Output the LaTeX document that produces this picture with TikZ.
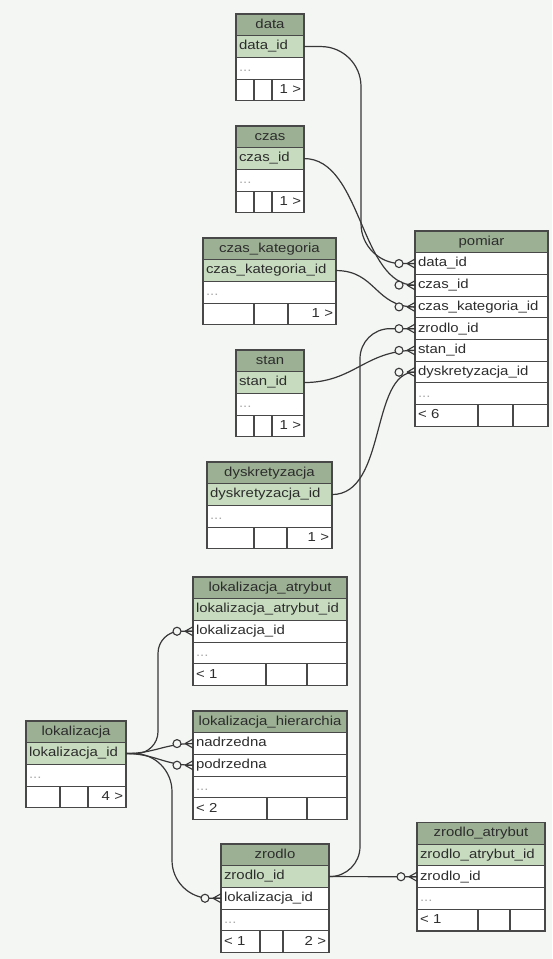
\documentclass[tikz,border=0pt]{standalone}
\usepackage{fontspec}
\newfontfamily\erfont{Liberation Sans}[FakeStretch=1.15]
\usetikzlibrary{positioning,decorations.markings}

\definecolor{bgclr}{RGB}{244,246,244}
\definecolor{headclr}{RGB}{156,177,148}
\definecolor{keyclr}{RGB}{199,220,191}
\definecolor{lineclr}{RGB}{72,72,72}
\definecolor{txtclr}{RGB}{45,45,45}
\definecolor{dotclr}{RGB}{170,170,170}
\definecolor{relclr}{RGB}{55,55,55}

\tikzset{
  cell/.style={draw=lineclr, line width=1.1pt, inner xsep=3pt, inner ysep=0pt, outer sep=0pt,
    minimum height=21.7pt, text height=9.5pt, text depth=2.8pt,
    font=\erfont\fontsize{13}{15}\selectfont, text=txtclr},
  head/.style={cell, fill=headclr, text width=#1, align=center},
  keyfld/.style={cell, fill=keyclr, text width=#1, align=left},
  fld/.style={cell, fill=white, text width=#1, align=left},
  dotfld/.style={cell, fill=white, text width=#1, align=left, text=dotclr},
  footl/.style={cell, fill=white, text width=#1, align=left},
  footr/.style={cell, fill=white, text width=#1, align=right},
  rel/.style={draw=relclr, line width=1.2pt},
  zmany/.style={postaction={decorate, decoration={markings, mark=at position -0.3pt with {
      \draw[relclr, line width=1.1pt, fill=bgclr] (-15.7,0) circle (4);
      \draw[relclr, line width=1.1pt] (-7.7,0) -- (0.3,4.5) (-7.7,0) -- (0.3,-4.5) (-7.7,0) -- (0.3,0);}}}}
}

\begin{document}
\begin{tikzpicture}[x=1pt, y=-1pt]
\useasboundingbox (0,0) rectangle (552,959);
\fill[bgclr] (0,0) rectangle (552,959);

% small dimension tables
\foreach \tab/\ty in {data/14,czas/126,stan/350}{
  \node[head=62pt, anchor=north west] (\tab) at (236,\ty) {\tab};
  \node[keyfld=62pt, below=0pt of \tab] (\tab-id) {\tab\_id};
  \node[dotfld=62pt, below=0pt of \tab-id] (\tab-dots) {...};
  \node[footl=12pt, anchor=north west] (\tab-f1) at (\tab-dots.south west) {};
  \node[footl=12pt, right=0pt of \tab-f1] (\tab-f2) {};
  \node[footr=26pt, right=0pt of \tab-f2] (\tab-f3) {1 >};
}

% czas_kategoria
\node[head=127pt, anchor=north west] (czaskat) at (203,238) {czas\_kategoria};
\node[keyfld=127pt, below=0pt of czaskat] (czaskat-id) {czas\_kategoria\_id};
\node[dotfld=127pt, below=0pt of czaskat-id] (czaskat-dots) {...};
\node[footl=45pt, anchor=north west] (czaskat-f1) at (czaskat-dots.south west) {};
\node[footl=28pt, right=0pt of czaskat-f1] (czaskat-f2) {};
\node[footr=42pt, right=0pt of czaskat-f2] (czaskat-f3) {1 >};

% dyskretyzacja
\node[head=119pt, anchor=north west] (dysk) at (207,462) {dyskretyzacja};
\node[keyfld=119pt, below=0pt of dysk] (dysk-id) {dyskretyzacja\_id};
\node[dotfld=119pt, below=0pt of dysk-id] (dysk-dots) {...};
\node[footl=41pt, anchor=north west] (dysk-f1) at (dysk-dots.south west) {};
\node[footl=27pt, right=0pt of dysk-f1] (dysk-f2) {};
\node[footr=39pt, right=0pt of dysk-f2] (dysk-f3) {1 >};

% pomiar
\node[head=127pt, anchor=north west] (pomiar) at (415,231) {pomiar};
\node[fld=127pt, below=0pt of pomiar] (pomiar-data) {data\_id};
\node[fld=127pt, below=0pt of pomiar-data] (pomiar-czas) {czas\_id};
\node[fld=127pt, below=0pt of pomiar-czas] (pomiar-czaskat) {czas\_kategoria\_id};
\node[fld=127pt, below=0pt of pomiar-czaskat] (pomiar-zrodlo) {zrodlo\_id};
\node[fld=127pt, below=0pt of pomiar-zrodlo] (pomiar-stan) {stan\_id};
\node[fld=127pt, below=0pt of pomiar-stan] (pomiar-dysk) {dyskretyzacja\_id};
\node[dotfld=127pt, below=0pt of pomiar-dysk] (pomiar-dots) {...};
\node[footl=57pt, anchor=north west] (pomiar-f1) at (pomiar-dots.south west) {< 6};
\node[footl=29pt, right=0pt of pomiar-f1] (pomiar-f2) {};
\node[footr=29pt, right=0pt of pomiar-f2] (pomiar-f3) {};

% lokalizacja_atrybut
\node[head=148pt, anchor=north west] (lokatr) at (193,577) {lokalizacja\_atrybut};
\node[keyfld=148pt, below=0pt of lokatr] (lokatr-id) {lokalizacja\_atrybut\_id};
\node[fld=148pt, below=0pt of lokatr-id] (lokatr-lok) {lokalizacja\_id};
\node[dotfld=148pt, below=0pt of lokatr-lok] (lokatr-dots) {...};
\node[footl=67pt, anchor=north west] (lokatr-f1) at (lokatr-dots.south west) {< 1};
\node[footl=35pt, right=0pt of lokatr-f1] (lokatr-f2) {};
\node[footr=34pt, right=0pt of lokatr-f2] (lokatr-f3) {};

% lokalizacja_hierarchia
\node[head=148pt, anchor=north west] (lokhier) at (193,711) {lokalizacja\_hierarchia};
\node[fld=148pt, below=0pt of lokhier] (lokhier-nad) {nadrzedna};
\node[fld=148pt, below=0pt of lokhier-nad] (lokhier-pod) {podrzedna};
\node[dotfld=148pt, below=0pt of lokhier-pod] (lokhier-dots) {...};
\node[footl=68pt, anchor=north west] (lokhier-f1) at (lokhier-dots.south west) {< 2};
\node[footl=34pt, right=0pt of lokhier-f1] (lokhier-f2) {};
\node[footr=34pt, right=0pt of lokhier-f2] (lokhier-f3) {};

% lokalizacja
\node[head=94pt, anchor=north west] (lok) at (26,721) {lokalizacja};
\node[keyfld=94pt, below=0pt of lok] (lok-id) {lokalizacja\_id};
\node[dotfld=94pt, below=0pt of lok-id] (lok-dots) {...};
\node[footl=28pt, anchor=north west] (lok-f1) at (lok-dots.south west) {};
\node[footl=22pt, right=0pt of lok-f1] (lok-f2) {};
\node[footr=32pt, right=0pt of lok-f2] (lok-f3) {4 >};

% zrodlo
\node[head=102pt, anchor=north west] (zrodlo) at (221,844) {zrodlo};
\node[keyfld=102pt, below=0pt of zrodlo] (zrodlo-id) {zrodlo\_id};
\node[fld=102pt, below=0pt of zrodlo-id] (zrodlo-lok) {lokalizacja\_id};
\node[dotfld=102pt, below=0pt of zrodlo-lok] (zrodlo-dots) {...};
\node[footl=33pt, anchor=north west] (zrodlo-f1) at (zrodlo-dots.south west) {< 1};
\node[footl=17pt, right=0pt of zrodlo-f1] (zrodlo-f2) {};
\node[footr=40pt, right=0pt of zrodlo-f2] (zrodlo-f3) {2 >};

% zrodlo_atrybut
\node[head=122pt, anchor=north west] (zratr) at (417,822.5) {zrodlo\_atrybut};
\node[keyfld=122pt, below=0pt of zratr] (zratr-id) {zrodlo\_atrybut\_id};
\node[fld=122pt, below=0pt of zratr-id] (zratr-zr) {zrodlo\_id};
\node[dotfld=122pt, below=0pt of zratr-zr] (zratr-dots) {...};
\node[footl=55pt, anchor=north west] (zratr-f1) at (zratr-dots.south west) {< 1};
\node[footl=26pt, right=0pt of zratr-f1] (zratr-f2) {};
\node[footr=29pt, right=0pt of zratr-f2] (zratr-f3) {};

% relations
\draw[rel, zmany, rounded corners=40] (data-id.east) -- ++(57,0) |- (pomiar-data.west);
\draw[rel, zmany] (czas-id.east) .. controls +(58,0) and +(-55,0) .. (pomiar-czas.west);
\draw[rel, zmany] (czaskat-id.east) .. controls +(40,0) and +(-40,0) .. (pomiar-czaskat.west);
\draw[rel, zmany, rounded corners=30] (zrodlo-id.east) -- ++(31,0) |- (pomiar-zrodlo.west);
\draw[rel, zmany] (stan-id.east) .. controls +(50,0) and +(-50,0) .. (pomiar-stan.west);
\draw[rel, zmany] (dysk-id.east) .. controls +(55,0) and +(-45,0) .. (pomiar-dysk.west);
\draw[rel, zmany, rounded corners=22] (lok-id.east) -- ++(32,0) |- (lokatr-lok.west);
\draw[rel, zmany] (lok-id.east) .. controls +(28,0) and +(-28,0) .. (lokhier-nad.west);
\draw[rel, zmany] (lok-id.east) .. controls +(28,0) and +(-28,0) .. (lokhier-pod.west);
\draw[rel, zmany, rounded corners=38] (lok-id.east) -- ++(46,0) |- (zrodlo-lok.west);
\draw[rel, zmany] (zrodlo-id.east) -- (zratr-zr.west);
\end{tikzpicture}
\end{document}
